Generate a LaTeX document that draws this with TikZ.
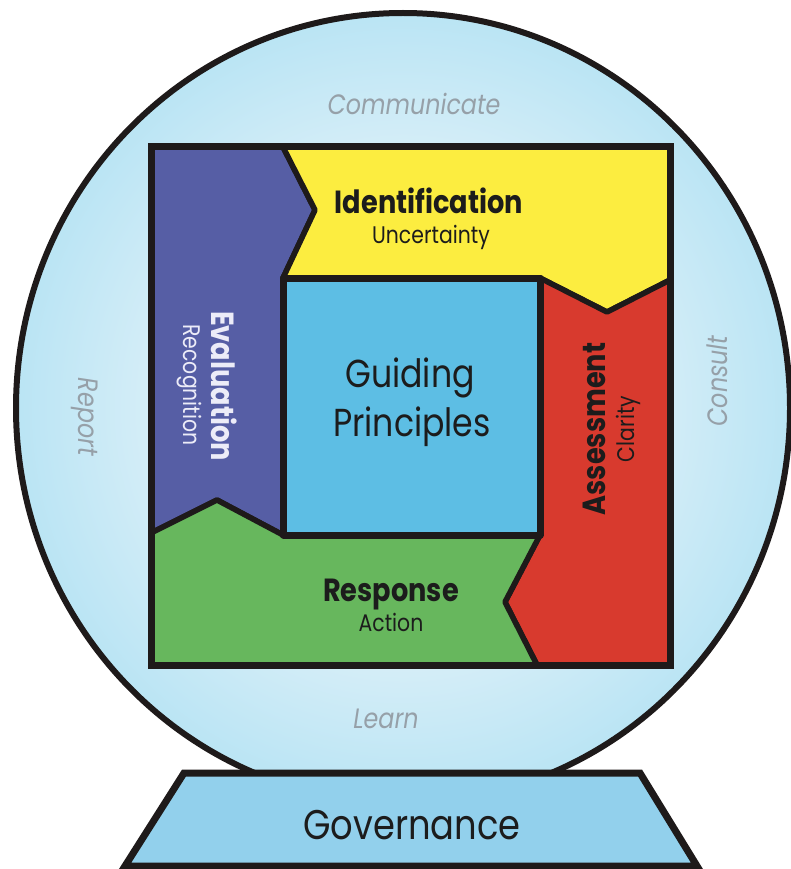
\documentclass[tikz,border=0pt]{standalone}
\usepackage{fontspec}
\setmainfont{Poppins}[FakeStretch=0.85]
\usepackage{tikz}

\definecolor{evalblue}{RGB}{86,94,165}
\definecolor{identyellow}{RGB}{252,237,64}
\definecolor{assessred}{RGB}{216,58,46}
\definecolor{respgreen}{RGB}{103,183,93}
\definecolor{guideblue}{RGB}{93,190,228}
\definecolor{basecyan}{RGB}{146,208,236}
\definecolor{globein}{RGB}{226,242,249}
\definecolor{globeout}{RGB}{152,217,240}
\definecolor{rimblack}{RGB}{30,26,26}
\definecolor{softgray}{RGB}{150,160,168}
\definecolor{inkblack}{RGB}{28,28,28}
\definecolor{evalwhite}{RGB}{236,236,248}

% pale middle, cyan towards the rim
\pgfdeclareradialshading{globe}{\pgfpoint{0bp}{0bp}}{color(0bp)=(globein); color(12bp)=(globein); color(36bp)=(globeout); color(50bp)=(globeout)}

\tikzset{
  rim/.style={draw=rimblack, line width=6pt},
  region/.style={draw=rimblack, line width=5.5pt, line join=round},
  heading/.style={font=\bfseries\fontsize{32}{32}\selectfont, text=inkblack, inner sep=0pt},
  subhead/.style={font=\fontsize{24}{24}\selectfont, text=inkblack, inner sep=0pt},
  guide/.style={font=\fontsize{39}{39}\selectfont, text=inkblack, inner sep=0pt},
  aside/.style={font=\itshape\fontsize{28}{28}\selectfont, text=softgray, inner sep=0pt}
}

\begin{document}
\begin{tikzpicture}[x=1pt,y=-1pt]
  \useasboundingbox (0,0) rectangle (790,869);

  % globe and stand
  \draw[rim, shading=globe] (403,408) ellipse [x radius=387, y radius=395];
  \draw[rim, line width=7pt, fill=basecyan] (184,773) -- (640,773) -- (697,866) -- (125,866) -- cycle;

  % the four stages round the middle
  \draw[region, fill=evalblue] (151,147) -- (283,147) -- (315,210) -- (283,278) -- (283,535)
       -- (217,500) -- (151,533) -- cycle;
  \draw[region, fill=identyellow] (283,147) -- (670,147) -- (670,280) -- (607,312) -- (540,278)
       -- (283,278) -- (315,210) -- cycle;
  \draw[region, fill=assessred] (670,280) -- (670,665) -- (537,665) -- (505,602) -- (540,535)
       -- (540,278) -- (607,312) -- cycle;
  \draw[region, fill=respgreen] (151,533) -- (217,500) -- (283,535) -- (540,535) -- (505,602)
       -- (537,665) -- (151,665) -- cycle;
  \draw[region, line width=7pt, fill=guideblue] (283,278) rectangle (540,535);
  \draw[rim, line width=7pt] (151,147) rectangle (670,665);

  % labels
  \node[heading, anchor=base] (ident) at (429,213) {Identification};
  \node[subhead, anchor=base] (uncert) at (431,243) {Uncertainty};
  \node[heading, text=evalwhite, rotate=-90] (eval) at (224,386) {Evaluation};
  \node[subhead, text=evalwhite, rotate=-90] (recog) at (189,385) {Recognition};
  \node[guide, anchor=base] (guiding) at (410,387) {Guiding};
  \node[guide, anchor=base] (princ) at (412,436) {Principles};
  \node[heading, rotate=90] (assess) at (594,429) {Assessment};
  \node[subhead, rotate=90] (clarity) at (628,429) {Clarity};
  \node[heading, anchor=base] (resp) at (391,601) {Response};
  \node[subhead, anchor=base] (action) at (391,631) {Action};

  \node[aside, anchor=base] (comm) at (414,115) {Communicate};
  \node[aside, rotate=-90] (report) at (85,417) {Report};
  \node[aside, rotate=90] (consult) at (717,381) {Consult};
  \node[aside, anchor=base] (learn) at (386,728) {Learn};
  \node[guide, font=\fontsize{41.5}{41.5}\selectfont, anchor=base] (gov) at (412,839) {Governance};
\end{tikzpicture}
\end{document}
